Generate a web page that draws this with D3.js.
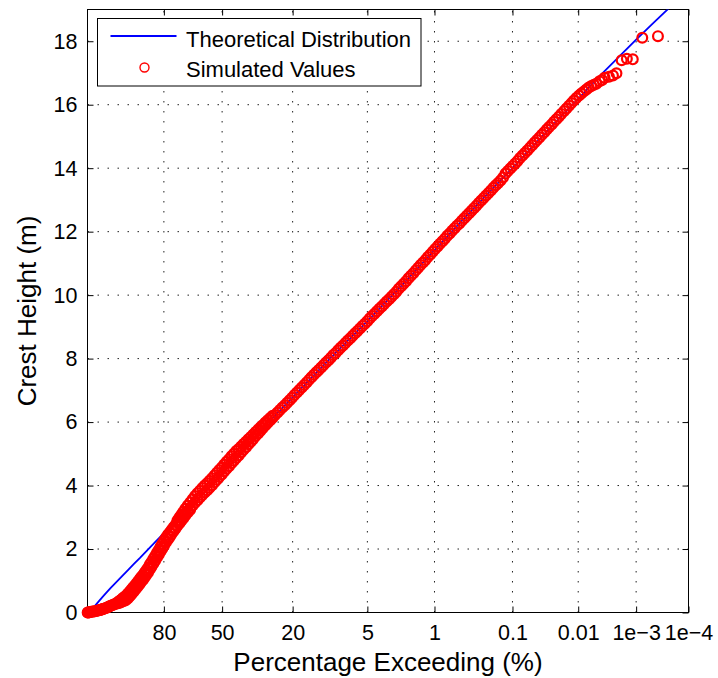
<!DOCTYPE html>
<html>
<head>
<meta charset="utf-8">
<script src="https://cdn.jsdelivr.net/npm/d3@7"></script>
<style>
  html, body { margin: 0; padding: 0; background: #fff; }
  svg { display: block; }
</style>
</head>
<body>
<svg id="chart" width="718" height="678"></svg>
<script>
// ---- data -------------------------------------------------------------
// x ticks: percentage of crests exceeding a level
const xTickPct    = [80, 50, 20, 5, 1, 0.1, 0.01, 0.001, 0.0001];
const xTickLabels = ["80", "50", "20", "5", "1", "0.1", "0.01", "1e\u22123", "1e\u22124"];
const yTicks      = [0, 2, 4, 6, 8, 10, 12, 14, 16, 18];

// theoretical crest distribution: [percentage exceeding, crest height (m)]
const theoretical = [
  [99.9, 0.12], [99.5, 0.36], [99, 0.53], [98, 0.77], [96, 1.08], [94, 1.33],
  [92, 1.54], [90, 1.72], [85, 2.14], [80, 2.50], [70, 3.10], [60, 3.73],
  [50, 4.37], [40, 5.08], [30, 5.88], [20, 6.78], [10, 8.09], [5, 9.18],
  [2, 10.49], [1, 11.42], [0.5, 12.27], [0.2, 13.29], [0.1, 14.00],
  [0.05, 14.70], [0.02, 15.58], [0.01, 16.18], [0.005, 16.80],
  [0.002, 17.52], [0.001, 18.05], [0.0005, 18.55], [0.0002, 19.17]
];

// simulated crests: [percentage exceeding, crest height (m)]
const simulated = [
  [99.9999, 0.00], [99.999, 0.00], [99.99, 0.01], [99.98, 0.01], [99.95, 0.02],
  [99.9, 0.03], [99.85, 0.03], [99.8, 0.04], [99.7, 0.05], [99.6, 0.06],
  [99.5, 0.07], [99.4, 0.08], [99.3, 0.09], [99.2, 0.10], [99.1, 0.11], [99.0, 0.12],
  [98.8, 0.13], [98.6, 0.15], [98.4, 0.17], [98.2, 0.19], [98.0, 0.21],
  [97.7, 0.23], [97.4, 0.25], [97.1, 0.27], [96.8, 0.29], [96.5, 0.33],
  [96.1, 0.37], [95.7, 0.41], [95.3, 0.46], [94.9, 0.49], [94.5, 0.53],
  [94.0, 0.59], [93.5, 0.65], [93.0, 0.71], [92.5, 0.77], [92.0, 0.83],
  [91.4, 0.90], [90.8, 0.97], [90.2, 1.04], [89.6, 1.11], [89.0, 1.17],
  [88.3, 1.25], [87.6, 1.33], [86.9, 1.41], [86.2, 1.51], [85.5, 1.59],
  [84.7, 1.69], [83.9, 1.79], [83.1, 1.89], [82.3, 1.98], [81.5, 2.08],
  [80.7, 2.17], [79.9, 2.26], [79.0, 2.36], [78.1, 2.45], [77.2, 2.52],
  [76.3, 2.60], [75.4, 2.68], [74.4, 2.76], [73.4, 2.84], [72.4, 2.91],
  [71.4, 2.98], [70.4, 3.05],
  [69.35, 3.13], [68.09, 3.21], [66.82, 3.29], [65.54, 3.37], [64.26, 3.46],
  [62.98, 3.54], [61.69, 3.62], [60.40, 3.70], [59.12, 3.78], [57.83, 3.85],
  [56.55, 3.93], [55.27, 4.01], [54.00, 4.10], [52.73, 4.18], [51.47, 4.27],
  [50.21, 4.35], [48.97, 4.44], [47.73, 4.53], [46.50, 4.61], [45.29, 4.70],
  [44.09, 4.78], [42.90, 4.87], [41.72, 4.95], [40.56, 5.04], [39.41, 5.13],
  [38.27, 5.21], [37.16, 5.30], [36.06, 5.38], [34.97, 5.47], [33.91, 5.56],
  [32.86, 5.64], [31.83, 5.73], [30.81, 5.81], [29.82, 5.90], [28.85, 5.98],
  [27.89, 6.06], [26.95, 6.14], [26.04, 6.22], [25.14, 6.30], [24.27, 6.38],
  [23.41, 6.46], [22.57, 6.53], [21.76, 6.61], [20.96, 6.69], [20.19, 6.77],
  [19.43, 6.85], [18.69, 6.93], [17.98, 7.01], [17.28, 7.09], [16.60, 7.17],
  [15.94, 7.25], [15.31, 7.33], [14.69, 7.41], [14.09, 7.49], [13.50, 7.57],
  [12.94, 7.64], [12.39, 7.72], [11.86, 7.80], [11.35, 7.88], [10.86, 7.95],
  [10.38, 8.03], [9.922, 8.11], [9.478, 8.18], [9.049, 8.26], [8.636, 8.34],
  [8.238, 8.41], [7.855, 8.49], [7.486, 8.57], [7.132, 8.64], [6.791, 8.72],
  [6.463, 8.80], [6.149, 8.87], [5.847, 8.95], [5.558, 9.03], [5.280, 9.10],
  [5.014, 9.18], [4.759, 9.26], [4.516, 9.34], [4.282, 9.41], [4.060, 9.49],
  [3.846, 9.57], [3.643, 9.64], [3.448, 9.72], [3.263, 9.80], [3.086, 9.87],
  [2.918, 9.95], [2.757, 10.03], [2.604, 10.11], [2.459, 10.20], [2.320, 10.28],
  [2.188, 10.36], [2.063, 10.44], [1.944, 10.53], [1.832, 10.61], [1.725, 10.69],
  [1.623, 10.78], [1.527, 10.86], [1.436, 10.95], [1.349, 11.03], [1.268, 11.11],
  [1.190, 11.20], [1.117, 11.28], [1.048, 11.37], [0.983, 11.45], [0.921, 11.53],
  [0.863, 11.62], [0.808, 11.70], [0.757, 11.78], [0.708, 11.87], [0.662, 11.94],
  [0.619, 12.03], [0.578, 12.11], [0.540, 12.19], [0.504, 12.26], [0.470, 12.34],
  [0.439, 12.42], [0.409, 12.50], [0.381, 12.58], [0.355, 12.66], [0.331, 12.74],
  [0.308, 12.82], [0.286, 12.90], [0.266, 12.98], [0.247, 13.06], [0.230, 13.14],
  [0.213, 13.22], [0.198, 13.30], [0.1836, 13.38], [0.1702, 13.46], [0.1578, 13.53],
  [0.1462, 13.61], [0.1353, 13.71], [0.1253, 13.83], [0.1159, 13.91], [0.1072, 13.99],
  [0.0991, 14.07], [0.0916, 14.15], [0.0846, 14.23], [0.0781, 14.32], [0.0720, 14.40],
  [0.0664, 14.48], [0.0612, 14.56], [0.0564, 14.64], [0.0520, 14.72], [0.0478, 14.81],
  [0.0440, 14.89], [0.0405, 14.97], [0.0372, 15.05], [0.0342, 15.13], [0.0314, 15.22],
  [0.0289, 15.30], [0.0264, 15.38], [0.0243, 15.46], [0.0223, 15.54], [0.0204, 15.62],
  [0.0187, 15.71], [0.01682, 15.80], [0.01548, 15.88], [0.01408, 15.97],
  [0.01287, 16.05], [0.01176, 16.13], [0.01074, 16.21], [0.00969, 16.29],
  [0.00890, 16.35], [0.00807, 16.42], [0.00736, 16.48], [0.00670, 16.54],
  [0.00607, 16.59], [0.00550, 16.63], [0.00500, 16.66], [0.00441, 16.74],
  [0.00398, 16.78], [0.00362, 16.85], [0.00304, 16.88], [0.00259, 16.92],
  [0.00225, 16.99], [0.00182, 17.40], [0.00147, 17.45], [0.00115, 17.43],
  [0.000772, 18.11], [0.000393, 18.16],
  // spread of the crests in the body of the distribution
  [96.5, 0.29], [96.1, 0.31], [95.7, 0.33], [95.3, 0.36], [94.9, 0.37],
  [94.5, 0.39], [94.0, 0.44], [93.5, 0.50], [93.0, 0.56], [92.5, 0.62],
  [92.0, 0.68], [91.4, 0.75], [90.8, 0.82], [90.2, 0.89], [89.6, 0.96],
  [89.0, 1.02], [88.3, 1.10], [87.6, 1.18], [86.9, 1.26], [86.2, 1.36],
  [85.5, 1.44], [84.7, 1.54], [83.9, 1.64], [83.1, 1.74], [82.3, 1.83],
  [81.5, 1.93], [80.7, 2.02], [79.9, 2.11], [79.0, 2.21], [78.1, 2.30],
  [77.2, 2.38], [76.3, 2.47], [75.4, 2.56], [74.4, 2.64], [73.4, 2.73],
  [72.4, 2.81], [71.4, 2.89], [70.4, 2.97], [69.35, 3.06], [68.09, 3.15],
  [66.82, 3.24],
  [73.4, 2.90], [72.4, 2.99], [71.4, 3.08], [70.4, 3.17], [69.35, 3.27],
  [68.09, 3.37], [66.82, 3.47], [65.54, 3.57], [64.26, 3.67], [62.98, 3.76],
  [61.69, 3.84], [60.40, 3.92], [59.12, 4.00], [57.83, 4.07], [56.55, 4.15],
  [55.27, 4.23], [54.00, 4.32], [52.73, 4.40], [51.47, 4.49], [50.21, 4.57],
  [48.97, 4.66], [47.73, 4.75], [46.50, 4.83], [45.29, 4.92], [44.09, 5.00],
  [42.90, 5.09], [41.72, 5.15], [40.56, 5.23], [39.41, 5.31], [38.27, 5.38],
  [37.16, 5.46], [36.06, 5.53], [34.97, 5.61], [33.91, 5.69], [32.86, 5.76],
  [31.83, 5.84], [30.81, 5.91], [29.82, 5.99], [28.85, 6.06], [27.89, 6.13],
  [26.95, 6.20]
];

// ---- layout -----------------------------------------------------------
const L = 87.5, R = 688.5, T = 9.5, B = 612.5;
const FONT = "'Liberation Sans', Arial, Helvetica, sans-serif";

// probability-paper abscissa: sqrt(-ln(P))
const reduced = p => Math.sqrt(-Math.log(p / 100));
const xT = d3.scaleLinear().domain([0, reduced(0.0001)]).range([L, R]);
const x = p => xT(reduced(p));
const y = d3.scaleLinear().domain([0, 19]).range([B, T]);

const svg = d3.select("#chart");
svg.append("rect").attr("width", 718).attr("height", 678).attr("fill", "#fff");

svg.append("defs").append("clipPath").attr("id", "plotClip")
  .append("rect").attr("x", L).attr("y", T).attr("width", R - L).attr("height", B - T);

// ---- dotted grid ------------------------------------------------------
const grid = svg.append("g")
  .attr("stroke", "#222").attr("stroke-width", 1).attr("stroke-dasharray", "1.5,8.5");
grid.selectAll("line.gx").data(xTickPct).join("line").attr("class", "gx")
  .attr("x1", d => x(d)).attr("x2", d => x(d)).attr("y1", B).attr("y2", T);
grid.selectAll("line.gy").data(yTicks.filter(v => v > 0)).join("line").attr("class", "gy")
  .attr("x1", L).attr("x2", R).attr("y1", d => y(d)).attr("y2", d => y(d));

// ---- axes -------------------------------------------------------------
const tickVals = xTickPct.map(reduced);
function styleAxis(g, showText) {
  g.select(".domain").remove();
  g.selectAll(".tick line").attr("stroke", "#000").attr("stroke-width", 1);
  g.selectAll(".tick text").attr("fill", "#000")
    .style("font-family", FONT).style("font-size", "21.5px");
  if (!showText) g.selectAll(".tick text").remove();
}

svg.append("g").attr("transform", `translate(0,${B})`)
  .call(d3.axisBottom(xT).tickValues(tickVals)
    .tickFormat((d, i) => xTickLabels[i]).tickSizeInner(-6).tickSizeOuter(0).tickPadding(12.5))
  .call(g => styleAxis(g, true));

svg.append("g").attr("transform", `translate(0,${T})`)
  .call(d3.axisTop(xT).tickValues(tickVals).tickSizeInner(-6).tickSizeOuter(0))
  .call(g => styleAxis(g, false));

svg.append("g").attr("transform", `translate(${L},0)`)
  .call(d3.axisLeft(y).tickValues(yTicks).tickFormat(d3.format("d"))
    .tickSizeInner(-6).tickSizeOuter(0).tickPadding(10))
  .call(g => styleAxis(g, true));

svg.append("g").attr("transform", `translate(${R},0)`)
  .call(d3.axisRight(y).tickValues(yTicks).tickSizeInner(-6).tickSizeOuter(0))
  .call(g => styleAxis(g, false));

// axes box
svg.append("rect").attr("x", L).attr("y", T).attr("width", R - L).attr("height", B - T)
  .attr("fill", "none").attr("stroke", "#000").attr("stroke-width", 1);

// ---- series -----------------------------------------------------------
svg.append("path").datum(theoretical)
  .attr("clip-path", "url(#plotClip)")
  .attr("d", d3.line().x(d => x(d[0])).y(d => y(d[1])))
  .attr("fill", "none").attr("stroke", "#0000ff").attr("stroke-width", 1.8);

svg.append("g").selectAll("circle").data(simulated).join("circle")
  .attr("cx", d => x(d[0])).attr("cy", d => y(d[1])).attr("r", 4.9)
  .attr("fill", "none").attr("stroke", "#ff0000").attr("stroke-width", 2.2);

// ---- axis labels ------------------------------------------------------
svg.append("text").attr("x", (L + R) / 2).attr("y", 671)
  .attr("text-anchor", "middle").style("font-family", FONT).style("font-size", "26px")
  .text("Percentage Exceeding (%)");

svg.append("text").attr("transform", `translate(36,${(T + B) / 2}) rotate(-90)`)
  .attr("text-anchor", "middle").style("font-family", FONT).style("font-size", "26px")
  .text("Crest Height (m)");

// ---- legend -----------------------------------------------------------
const lg = svg.append("g");
lg.append("rect").attr("x", 97.5).attr("y", 18.5).attr("width", 323.5).attr("height", 67.5)
  .attr("fill", "#fff").attr("stroke", "#000").attr("stroke-width", 1);
lg.append("line").attr("x1", 110.5).attr("x2", 176.5).attr("y1", 36).attr("y2", 36)
  .attr("stroke", "#0000ff").attr("stroke-width", 1.8);
lg.append("circle").attr("cx", 144.5).attr("cy", 67.5).attr("r", 4.5)
  .attr("fill", "none").attr("stroke", "#ff0000").attr("stroke-width", 1.4);
lg.append("text").attr("x", 186).attr("y", 46.5)
  .style("font-family", FONT).style("font-size", "22px").text("Theoretical Distribution");
lg.append("text").attr("x", 186).attr("y", 76.5)
  .style("font-family", FONT).style("font-size", "22px").text("Simulated Values");
</script>
</body>
</html>
